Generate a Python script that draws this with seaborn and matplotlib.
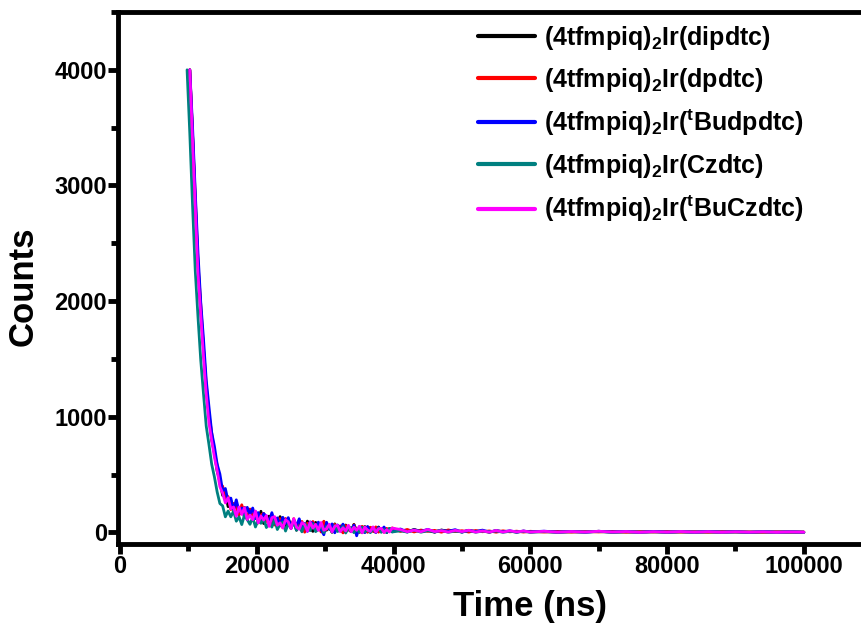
import numpy as np
import pandas as pd
import matplotlib
matplotlib.use("Agg")
import matplotlib.pyplot as plt
import seaborn as sns
from matplotlib.lines import Line2D
from matplotlib.ticker import MultipleLocator

nan = np.nan

# sampling times (ns)
time_ns = np.concatenate([np.arange(9800, 40000, 400),
                          np.arange(41000, 60001, 1000),
                          np.arange(62000, 100001, 2000)])

series_names = ["(4tfmpiq)$_2$Ir(dipdtc)", "(4tfmpiq)$_2$Ir(dpdtc)",
                "(4tfmpiq)$_2$Ir($^t$Budpdtc)", "(4tfmpiq)$_2$Ir(Czdtc)",
                "(4tfmpiq)$_2$Ir($^t$BuCzdtc)"]
series_colors = ["#000000", "#ff0000", "#0000ff", "#008080", "#ff00ff"]

counts_dipdtc = [nan, 4000, 3440, 2840, 2310, 1905, 1590, 1220, 1015, 800, 690, 530, 445, 320, 340, 223,
                 273, 202, 255, 158, 187, 217, 113, 180, 133, 181, 104, 183, 77, 127, 141, 66, 121, 71, 137,
                 78, 49, 120, 56, 102, 19, 81, 88, 25, 98, 41, 9, 87, 55, 18, 91, 19, 52, 1, 74, 18, 51, 0,
                 64, 27, 6, 70, 9, 38, -3, 51, 10, 44, 13, 2, 47, 6, 30, -1, 34, 13,
                 22, 5, 26, 8, 17, 2, 21, 10, 14, 4, 18, 6, 12, 2, 15, 7, 10, 3, 11, 4,
                 9, 2, 8, 4, 10, 2, 7, 3, 8, 1, 7, 3, 6, 2, 7, 1, 5, 2, 5, 2]
counts_dpdtc = [nan, 4000, 3450, 2900, 2330, 1970, 1600, 1285, 1020, 860, 685, 585, 420, 400, 295, 310,
                198, 251, 218, 151, 239, 154, 130, 202, 140, 174, 82, 151, 165, 95, 99, 159, 64, 114, 119,
                40, 121, 77, 38, 119, 46, 83, 95, 2, 80, 43, 95, 23, 61, 4, 97, 25, 48, 7, 70, 24, 57, -4,
                60, 23, 12, 66, 15, -1, 53, 32, 1, 45, 9, 48, 2, 27, 1, 35, 10, 39,
                8, 26, 4, 21, 9, 18, 2, 22, 7, 15, 3, 17, 6, 13, 2, 14, 5, 11, 3, 10,
                3, 9, 2, 8, 4, 9, 1, 7, 3, 8, 2, 6, 1, 7, 3, 5, 1, 6, 2, 4]
counts_tBudpdtc = [nan, 4000, 3510, 2940, 2415, 1990, 1675, 1320, 1090, 865, 745, 590, 505, 360, 380, 270,
                   297, 195, 282, 183, 211, 131, 217, 159, 211, 119, 172, 90, 164, 138, 82, 171, 81, 126, 56,
                   131, 77, 128, 34, 105, 56, 118, 35, 77, 9, 91, 78, 16, 89, 27, -20, 88, 26, 74, -3, 65, 29,
                   72, 6, 49, 8, 62, -29, 50, 39, -2, 52, 6, 40, -1, 43, 12, 47, 1, 30, 5,
                   30, 5, 22, 9, 27, 4, 19, 10, 24, 3, 17, 8, 20, 4, 15, 6, 14, 3, 12, 5,
                   11, 3, 9, 2, 10, 4, 8, 1, 9, 3, 7, 2, 8, 3, 6, 1, 7, 2, 5, 2]
counts_Czdtc = [4000, 3450, 2830, 2260, 1860, 1490, 1200, 920, 760, 590, 480, 350, 250, 230, 135, 185,
                135, 185, 97, 135, 68, 152, 111, 70, 131, 47, 108, 79, 120, 42, 89, 46, 113, 25, 72, 90,
                12, 75, 38, 86, 19, 52, 5, 73, 57, 15, 74, 7, 26, 60, -2, 52, 41, 5, 59, 8, 22, 51, -5,
                39, 43, -2, 32, 1, 45, 5, 24, -2, 33, 7, 37, 1, 26, 0, 35, 4,
                14, 3, 20, 2, 15, 6, 18, 1, 12, 4, 16, 2, 11, 5, 13, 1, 10, 4, 9, 2,
                7, 1, 6, 3, 8, 1, 6, 2, 5, 1, 6, 2, 5, 1, 4, 2, 5, 1, 4, 1]
counts_tBuCzdtc = [nan, 4000, 3390, 2815, 2240, 1890, 1525, 1200, 950, 795, 650, 535, 395, 340, 255, 300,
                   205, 220, 140, 220, 155, 215, 112, 150, 110, 185, 83, 142, 107, 147, 52, 127, 137, 62, 83,
                   39, 110, 91, 32, 119, 46, 28, 85, 68, 11, 89, 37, 70, 18, 86, 19, 32, 71, 5, 53, 62, 6,
                   40, 13, 62, 6, 45, 19, 53, -3, 46, 20, 9, 48, 2, 32, 36, 0, 24, 4, 38,
                   25, 6, 20, 6, 26, 7, 15, 3, 18, 7, 19, 3, 13, 3, 17, 3, 14, 5, 12, 3,
                   10, 2, 8, 3, 10, 3, 8, 1, 7, 2, 8, 2, 7, 1, 6, 2, 6, 1, 5, 2]

all_counts = [counts_dipdtc, counts_dpdtc, counts_tBudpdtc, counts_Czdtc, counts_tBuCzdtc]

sns.set_style("ticks")
plt.rcParams["font.family"] = ["Liberation Sans", "DejaVu Sans"]
plt.rcParams["font.weight"] = "bold"
plt.rcParams["text.color"] = "black"
plt.rcParams["axes.labelcolor"] = "black"
plt.rcParams["xtick.color"] = "black"
plt.rcParams["ytick.color"] = "black"
plt.rcParams["axes.edgecolor"] = "black"
plt.rcParams["mathtext.fontset"] = "custom"
plt.rcParams["mathtext.rm"] = "Liberation Sans:bold"
plt.rcParams["mathtext.bf"] = "Liberation Sans:bold"
plt.rcParams["mathtext.it"] = "Liberation Sans:italic:bold"
plt.rcParams["mathtext.default"] = "rm"

fig = plt.figure(figsize=(8.62, 6.32), dpi=100)
ax = fig.add_axes([118 / 862, 1 - 544 / 632, 744 / 862, 532 / 632])

for name, vals, col in zip(series_names, all_counts, series_colors):
    df = pd.DataFrame({"t": time_ns, "c": vals}).dropna()
    sns.lineplot(data=df, x="t", y="c", color=col, lw=2.0, ax=ax,
                 estimator=None, sort=False)

ax.set_xlim(-300, 108500)
ax.set_ylim(-100, 4500)
ax.xaxis.set_major_locator(MultipleLocator(20000))
ax.xaxis.set_minor_locator(MultipleLocator(10000))
ax.yaxis.set_major_locator(MultipleLocator(1000))
ax.yaxis.set_minor_locator(MultipleLocator(500))

for s in ["left", "bottom", "top"]:
    ax.spines[s].set_linewidth(3.5)
    ax.spines[s].set_color("black")
ax.spines["right"].set_visible(False)
ax.tick_params(axis="both", which="major", direction="out", length=7, width=3.5,
               labelsize=17, pad=1, colors="black")
ax.tick_params(axis="both", which="minor", direction="out", length=5, width=3.5,
               colors="black")
ax.tick_params(top=False, right=False)
for lab in ax.get_xticklabels() + ax.get_yticklabels():
    lab.set_fontweight("bold")

ax.set_xlabel("Time (ns)", fontsize=25, fontweight="bold")
ax.set_ylabel("Counts", fontsize=25, fontweight="bold")
ax.xaxis.set_label_coords((530 - 118) / 744, -46 / 532)
ax.yaxis.set_label_coords(-78 / 744, 0.5 - 8 / 532)

handles = [Line2D([0], [0], color=c, lw=3) for c in series_colors]
leg = ax.legend(handles, series_names, loc="upper left",
                bbox_to_anchor=(478 / 862, 1 - 24 / 632), bbox_transform=fig.transFigure,
                frameon=False, prop={"size": 18, "weight": "bold"},
                handlelength=2.3, handletextpad=0.35, labelspacing=0.55,
                borderpad=0, borderaxespad=0)

fig.savefig("out.png", dpi=100)
